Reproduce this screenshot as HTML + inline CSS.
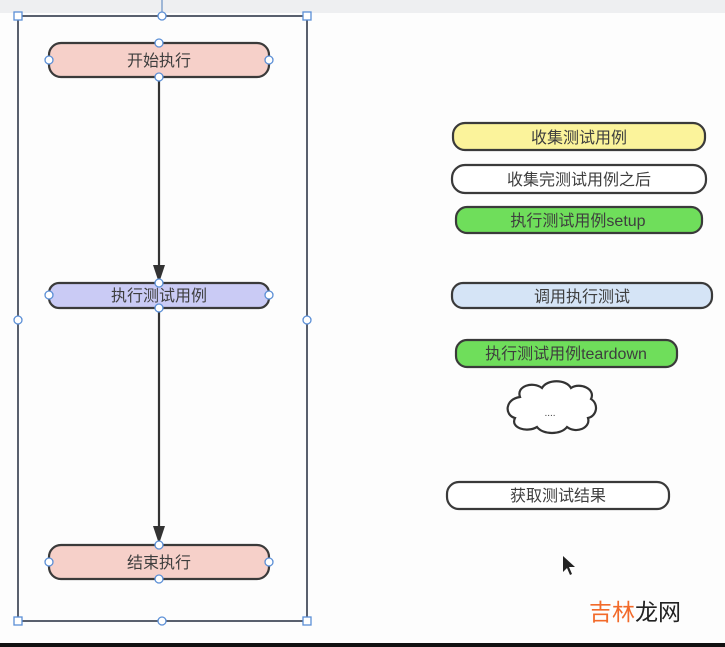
<!DOCTYPE html>
<html><head><meta charset="utf-8"><style>
html,body{margin:0;padding:0;background:#fdfdfd;width:725px;height:647px;overflow:hidden}
svg{display:block}
text{font-family:"Liberation Sans","Noto Sans CJK SC",sans-serif;fill:#3e3e3e;font-size:16px}
</style></head><body>
<svg width="725" height="647" viewBox="0 0 725 647" xmlns="http://www.w3.org/2000/svg">
<rect x="0" y="0" width="725" height="647" fill="#fdfdfd"/>
<rect x="0" y="0" width="725" height="13" fill="#eeeff1"/>
<rect x="0" y="643" width="725" height="4" fill="#111"/>

<!-- outer selection rect -->
<line x1="162" y1="0" x2="162" y2="16" stroke="#6a8fc4" stroke-width="1.2"/>
<rect x="18" y="16" width="289" height="605" fill="none" stroke="#59606e" stroke-width="2"/>

<!-- connectors -->
<line x1="159" y1="77" x2="159" y2="270" stroke="#333" stroke-width="2.2"/>
<polygon points="153,265 165,265 159,283" fill="#333"/>
<line x1="159" y1="308" x2="159" y2="531" stroke="#333" stroke-width="2.2"/>
<polygon points="153,526 165,526 159,544" fill="#333"/>

<!-- left nodes -->
<rect x="49" y="43" width="220" height="34" rx="12" fill="#f6d0c9" stroke="#3a3a3a" stroke-width="2.2"/>
<text x="159" y="66" text-anchor="middle">开始执行</text>
<rect x="49" y="283" width="220" height="25" rx="10" fill="#cacbf5" stroke="#3a3a3a" stroke-width="2.2"/>
<text x="159" y="301" text-anchor="middle">执行测试用例</text>
<rect x="49" y="545" width="220" height="34" rx="12" fill="#f6d0c9" stroke="#3a3a3a" stroke-width="2.2"/>
<text x="159" y="568" text-anchor="middle">结束执行</text>

<!-- node handles -->
<g fill="#fff" stroke="#5b8fd6" stroke-width="1.3">
<circle cx="159" cy="43" r="4"/><circle cx="159" cy="77" r="4"/><circle cx="49" cy="60" r="4"/><circle cx="269" cy="60" r="4"/>
<circle cx="159" cy="283" r="4"/><circle cx="159" cy="308" r="4"/><circle cx="49" cy="295" r="4"/><circle cx="269" cy="295" r="4"/>
<circle cx="159" cy="545" r="4"/><circle cx="159" cy="579" r="4"/><circle cx="49" cy="562" r="4"/><circle cx="269" cy="562" r="4"/>
<circle cx="162" cy="16" r="4"/><circle cx="162" cy="621" r="4"/><circle cx="18" cy="320" r="4"/><circle cx="307" cy="320" r="4"/>
<rect x="14" y="12" width="8" height="8"/><rect x="303" y="12" width="8" height="8"/>
<rect x="14" y="617" width="8" height="8"/><rect x="303" y="617" width="8" height="8"/>
</g>

<!-- right nodes -->
<rect x="453" y="123" width="252" height="27" rx="12" fill="#fbf39b" stroke="#3a3a3a" stroke-width="2.2"/>
<text x="579" y="143" text-anchor="middle">收集测试用例</text>
<rect x="452" y="165" width="254" height="28" rx="13" fill="#ffffff" stroke="#3a3a3a" stroke-width="2.2"/>
<text x="579" y="185" text-anchor="middle">收集完测试用例之后</text>
<rect x="456" y="207" width="246" height="26" rx="11" fill="#6fde5b" stroke="#3a3a3a" stroke-width="2.2"/>
<text x="578" y="226" text-anchor="middle">执行测试用例setup</text>
<rect x="452" y="283" width="260" height="25" rx="11" fill="#d5e4f6" stroke="#3a3a3a" stroke-width="2.2"/>
<text x="582" y="302" text-anchor="middle">调用执行测试</text>
<rect x="456" y="340" width="221" height="27" rx="11" fill="#6fde5b" stroke="#3a3a3a" stroke-width="2.2"/>
<text x="566" y="359" text-anchor="middle">执行测试用例teardown</text>

<!-- cloud -->
<path d="M520,397 C516,386 533,381 542,388 C547,379 566,379 571,388 C580,382 596,389 591,399 C599,404 597,416 588,418 C591,428 576,434 567,427 C561,435 543,435 537,427 C527,433 510,428 515,418 C504,415 505,399 520,397 Z" fill="#fff" stroke="#333" stroke-width="2.2"/>
<text x="550" y="416" text-anchor="middle" style="font-size:10px">....</text>

<rect x="447" y="482" width="222" height="27" rx="12" fill="#fff" stroke="#3a3a3a" stroke-width="2.2"/>
<text x="558" y="501" text-anchor="middle">获取测试结果</text>

<!-- cursor -->
<path d="M563,556 L563,572 L567,568 L570,575 L572,574 L569,567 L575,567 Z" fill="#222"/>

<!-- watermark -->
<text x="589" y="620" style="font-size:23px;fill:#f26a2a">吉林<tspan style="fill:#222">龙网</tspan></text>
</svg>
</body></html>
